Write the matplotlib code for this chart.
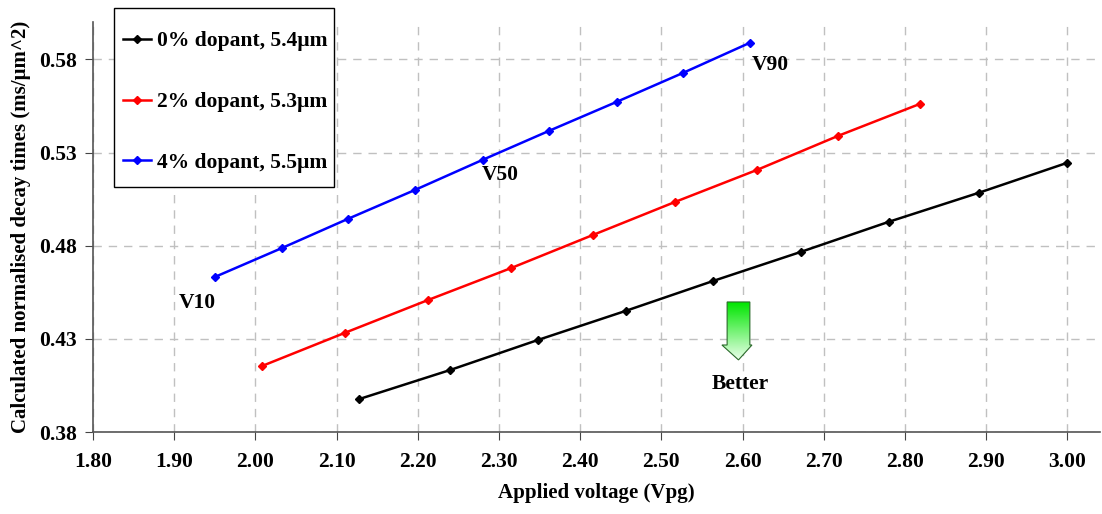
import matplotlib.pyplot as plt
import numpy as np
from matplotlib.patches import Polygon, Rectangle

plt.rcParams['font.family'] = ['Liberation Serif', 'DejaVu Serif']
plt.rcParams['font.weight'] = 'bold'

# data
v_0 = [2.128, 2.240, 2.348, 2.456, 2.564, 2.672, 2.780, 2.891, 3.000]
t_0 = [0.3977, 0.4133, 0.4294, 0.4450, 0.4611, 0.4767, 0.4928, 0.5084, 0.5245]
v_2 = [2.008, 2.110, 2.213, 2.315, 2.416, 2.517, 2.618, 2.718, 2.819]
t_2 = [0.4154, 0.4332, 0.4509, 0.4680, 0.4858, 0.5035, 0.5207, 0.5390, 0.5562]
v_4 = [1.950, 2.033, 2.114, 2.197, 2.280, 2.362, 2.445, 2.527, 2.609]
t_4 = [0.4632, 0.4788, 0.4944, 0.5100, 0.5261, 0.5417, 0.5572, 0.5728, 0.5889]
labels = ["0% dopant, 5.4\u00b5m", "2% dopant, 5.3\u00b5m", "4% dopant, 5.5\u00b5m"]
xticks = [1.8 + 0.1 * i for i in range(13)]
yticks = [0.38, 0.43, 0.48, 0.53, 0.58]

fig = plt.figure(figsize=(11.02, 5.14), dpi=100)
ax = fig.add_axes([0.0844, 0.1595, 0.9136, 0.7975])

ax.plot(v_0, t_0, color='black', marker='D', markersize=4.5, lw=1.8, label=labels[0])
ax.plot(v_2, t_2, color='red', marker='D', markersize=4.5, lw=1.8, label=labels[1])
ax.plot(v_4, t_4, color='blue', marker='D', markersize=4.5, lw=1.8, label=labels[2])

ax.set_xlim(1.8, 3.04)
ax.set_ylim(0.38, 0.60)
ax.set_xticks(xticks)
ax.set_xticklabels(["%.2f" % x for x in xticks], fontweight='bold')
ax.set_yticks(yticks)
ax.set_yticklabels(["%.2f" % y for y in yticks], fontweight='bold')
ax.tick_params(labelsize=15.5, length=5.5, color='#444444')
ax.tick_params(axis='x', pad=9)
ax.tick_params(axis='y', pad=6)
ax.grid(True, color='#c0c0c0', ls=(0, (6, 5)), lw=1)
ax.set_axisbelow(True)
for s in ['top', 'right']:
    ax.spines[s].set_visible(False)
for s in ['left', 'bottom']:
    ax.spines[s].set_color('#555555')
    ax.spines[s].set_linewidth(1.2)

ax.set_xlabel("Applied voltage (Vpg)", fontsize=15, fontweight='bold', labelpad=8)
ax.set_ylabel("Calculated normalised decay times (ms/\u00b5m^2)", fontsize=15,
              fontweight='bold', labelpad=6)

ax.text(1.928, 0.4495, "V10", fontsize=15.5, fontweight='bold', ha='center', va='center')
ax.text(2.301, 0.5180, "V50", fontsize=15.5, fontweight='bold', ha='center', va='center')
ax.text(2.634, 0.5768, "V90", fontsize=15.5, fontweight='bold', ha='center', va='center')
ax.text(2.597, 0.4058, "Better", fontsize=15.5, fontweight='bold', ha='center', va='center')

# gradient arrow
arrow = [(2.581, 0.4498), (2.609, 0.4498), (2.609, 0.4267), (2.6116, 0.4267),
         (2.595, 0.4187), (2.5746, 0.4267), (2.581, 0.4267)]
poly = Polygon(arrow, closed=True, fc='none', ec='#2a6a2a', lw=0.8, zorder=4)
ax.add_patch(poly)
grad = np.linspace(0, 1, 100)
cols = np.zeros((100, 1, 3))
cols[:, 0, 0] = 0.92 * grad
cols[:, 0, 1] = 0.9 + 0.1 * grad
cols[:, 0, 2] = 0.92 * grad
im = ax.imshow(cols, extent=[2.57, 2.62, 0.4187, 0.4498], origin='upper',
               aspect='auto', zorder=3)
im.set_clip_path(poly)

# legend box drawn separately so the padding can match
box = Rectangle((114 / 1102, 1 - 187 / 514), 220 / 1102, 179 / 514,
                transform=fig.transFigure, fc='white', ec='black', lw=1.0, zorder=5)
fig.patches.append(box)
leg = fig.legend(loc='upper left', bbox_to_anchor=(123 / 1102, 1 - 31 / 514),
                 prop={'size': 15.5, 'weight': 'bold'}, frameon=False,
                 labelspacing=1.9, handlelength=1.3, handletextpad=0.28,
                 borderpad=0, borderaxespad=0)
leg.set_zorder(6)

fig.savefig("out.png", dpi=100)
